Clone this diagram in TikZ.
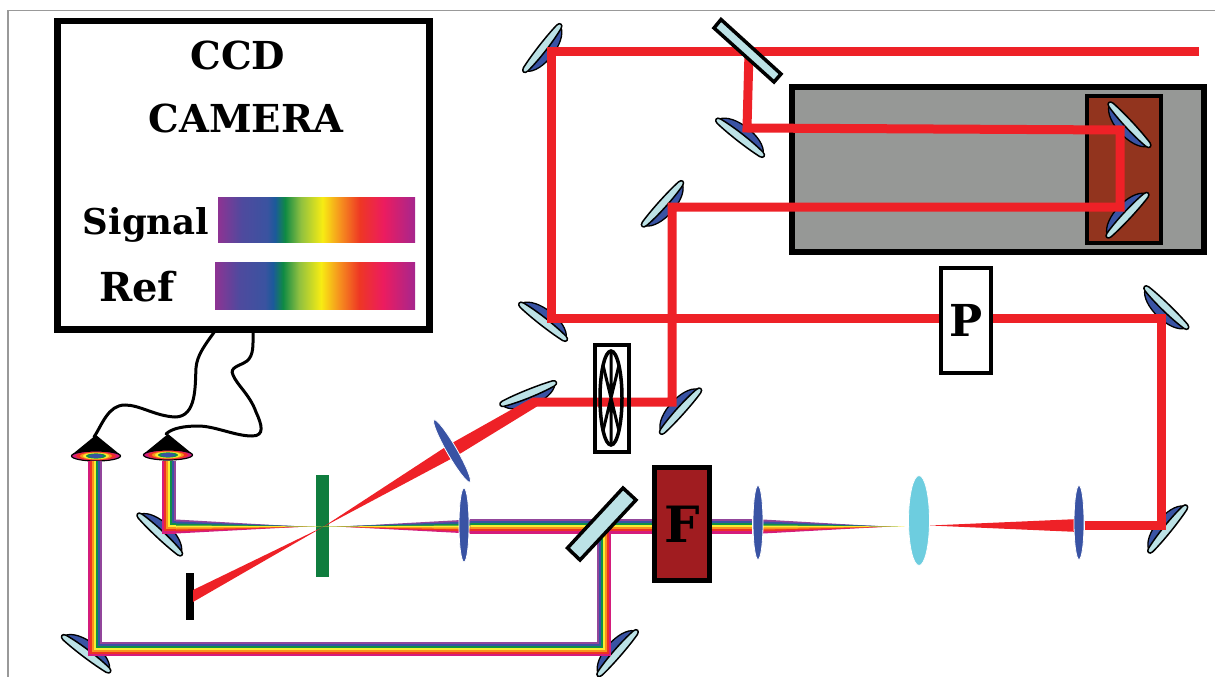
\documentclass[tikz,border=0pt]{standalone}
\usepackage{tikz}
\usepackage{fontspec}
\setmainfont{DejaVu Serif}
\definecolor{rMag}{HTML}{D41C7C}
\definecolor{rRed}{HTML}{EE3124}
\definecolor{rOra}{HTML}{F7941D}
\definecolor{rYel}{HTML}{F9ED32}
\definecolor{rGre}{HTML}{0F9048}
\definecolor{rBlu}{HTML}{3953A4}
\definecolor{rPur}{HTML}{92459B}
\definecolor{beamred}{HTML}{EE2127}
\definecolor{mirlight}{HTML}{BCE2E6}
\definecolor{mirdark}{HTML}{3953A4}
\definecolor{lenscyan}{HTML}{6DCDDF}
\definecolor{slab}{HTML}{969896}
\definecolor{stage}{HTML}{92341E}
\definecolor{filt}{HTML}{A01C20}
\definecolor{grat}{HTML}{0F7D3E}
\definecolor{frameg}{HTML}{999999}
\definecolor{sA}{HTML}{8E3393}\definecolor{sB}{HTML}{4F4A9E}\definecolor{sC}{HTML}{3A53A0}
\definecolor{sD}{HTML}{1B5A9A}\definecolor{sE}{HTML}{0F8A44}\definecolor{sF}{HTML}{8FC040}
\definecolor{sG}{HTML}{F7EC13}\definecolor{sH}{HTML}{F6921E}\definecolor{sI}{HTML}{EE3724}
\definecolor{sJ}{HTML}{EC1C5F}\definecolor{sK}{HTML}{A6268E}
\pgfdeclarehorizontalshading{spectrum}{100bp}{color(0bp)=(sA); color(25bp)=(sA); color(31bp)=(sB); color(37.5bp)=(sC); color(39.5bp)=(sD); color(42bp)=(sE); color(46bp)=(sF); color(51.5bp)=(sG); color(56bp)=(sH); color(61bp)=(sI); color(67bp)=(sJ); color(75bp)=(sK); color(100bp)=(sK)}
\tikzset{
  redbeam/.style={draw=beamred,line width=9pt,line join=miter},
  boxnode/.style={draw=black,inner sep=0pt,outer sep=0pt,font=\bfseries},
  lens/.style={draw=white,line width=0.8pt,fill=mirdark},
  wire/.style={draw=black,line width=3pt,line cap=round},
  splitter/.style={draw=black,line width=3.5pt,fill=mirlight,line join=miter},
  spec/.style={shading=spectrum,draw=none},
}
% centre x, centre y, page angle; the dark face is on local +y
\newcommand{\mirrorat}[3]{%
  \begin{scope}[shift={(#1,#2)},rotate=#3]
    \filldraw[fill=mirdark,draw=black,line width=1.3pt] (-28,-3) .. controls (-20,11) and (20,11) .. (28,-3) -- cycle;
    \filldraw[fill=mirlight,draw=black,line width=1.5pt,line join=round] (-27,-2) .. controls (-12,0) and (12,0) .. (27,-2) .. controls (31.5,-2.5) and (31.5,-7) .. (27,-7.5) .. controls (12,-9) and (-12,-9) .. (-27,-7.5) .. controls (-31.5,-7) and (-31.5,-2.5) .. (-27,-2) -- cycle;
  \end{scope}}
% rainbow fan: broad end at x=#1, apex at x=#3, axis y=#2; inner colours reach the apex
\newcommand{\rainbowfan}[3]{%
  \foreach \a/\b/\t/\c in {-7/0/.85/rPur,0/7/.9/rMag,-5/0/.9/rBlu,0/5/.93/rRed,-3/0/.95/rGre,0/3/.97/rOra,-1/1/1/rYel}{%
    \fill[\c] (#1,#2+\a) -- (#1,#2+\b) -- ({#1+\t*(#3-#1)},#2) -- cycle;}}
\newcommand{\detector}[2]{%
  \begin{scope}[shift={(#1,#2)}]
    \fill[black] (-24.5,-1) -- (0,-21) -- (24.5,-1) -- cycle;
    \filldraw[fill=rMag,draw=black,line width=1.2pt] (0,0) ellipse [x radius=24.5,y radius=5];
    \fill[rRed] (0,0) ellipse [x radius=20,y radius=4.2];
    \fill[rOra] (0,0) ellipse [x radius=16,y radius=3.6];
    \fill[rYel] (0,0) ellipse [x radius=13,y radius=3.2];
    \fill[rGre] (0,0) ellipse [x radius=10,y radius=2.6];
    \fill[rBlu] (0,0) ellipse [x radius=7,y radius=1.9];
  \end{scope}}
\begin{document}
\begin{tikzpicture}[x=1pt,y=-1pt]
\useasboundingbox (0,0) rectangle (1215,677);
% frame hairlines
\draw[frameg,line width=1.2pt] (8,677) -- (8,10.5) -- (1215,10.5);
% camera
\node[boxnode,line width=6.5pt,minimum width=372pt,minimum height=308.5pt,anchor=north west] (camera) at (57.5,21) {};
\node[font=\fontsize{38.5}{40}\selectfont\bfseries] (ccd) at (238,55) {CCD};
\node[font=\fontsize{38.5}{40}\selectfont\bfseries] (cam) at (246,118) {CAMERA};
\node[font=\fontsize{35.5}{40}\selectfont\bfseries,inner sep=0pt,anchor=base] (sig) at (146,234) {Signal};
\node[font=\fontsize{40}{44}\selectfont\bfseries,inner sep=0pt,anchor=base] (ref) at (137,301) {Ref};
\path[spec] (218,197) rectangle (415,242);
\path[spec] (215,262) rectangle (415,309);
% wires
\coordinate (wa) at (215,331);
\coordinate (wb) at (253,331);
\coordinate (da) at (94,437);
\coordinate (db) at (166,434);
\draw[wire] (wa) .. controls (205,345) and (197,355) .. (196,368) .. controls (195,385) and (197,417) .. (175,417) .. controls (155,416) and (140,405) .. (125,405) .. controls (108,405) and (102,425) .. (da);
\draw[wire] (wb) .. controls (253,345) and (254,355) .. (247,361) .. controls (240,366) and (229,367) .. (233,375) .. controls (237,385) and (250,395) .. (256,412) .. controls (262,425) and (265,436) .. (252,436) .. controls (235,436) and (215,426) .. (198,426) .. controls (185,426) and (172,428) .. (db);
% detectors
\detector{96}{456}
\detector{168}{455}
% grating and block
\fill[grat] (316,475) rectangle (329,577);
\fill[black] (186,573) rectangle (193.5,620);
% delay stage
\node[boxnode,line width=6pt,fill=slab,minimum width=412pt,minimum height=165pt,anchor=north west] (slabbox) at (792,87) {};
\node[boxnode,line width=4.5pt,fill=stage,minimum width=74pt,minimum height=147pt,anchor=north west] (stagebox) at (1087,96) {};
% mirrors
\mirrorat{546}{51}{52}
\mirrorat{743}{134}{142}
\mirrorat{666}{207}{48}
\mirrorat{1126}{128}{-47}
\mirrorat{1124}{212}{227}
\mirrorat{546}{318}{142}
\mirrorat{1163}{311}{-44}
\mirrorat{1164}{526}{231}
\mirrorat{677}{408}{228}
\mirrorat{530}{398}{22}
\mirrorat{163}{531}{137}
\mirrorat{89}{650}{143}
\mirrorat{614}{650}{229}
% red beams
\coordinate (in) at (1199,52);
\coordinate (c1) at (551,52);
\coordinate (c2) at (551,318);
\coordinate (c3) at (1161,318);
\coordinate (c4) at (1161,525);
\coordinate (c5) at (1085,525);
\coordinate (s1) at (749,52);
\coordinate (r1) at (747,128);
\coordinate (r2) at (1120,130);
\coordinate (r3) at (1120,207);
\coordinate (r4) at (672,207);
\coordinate (r5) at (672,402);
\coordinate (r6) at (533,402);
\draw[redbeam] (in) -- (c1) -- (c2) -- (c3) -- (c4) -- (c5);
\draw[redbeam] (s1) -- (r1) -- (r2) -- (r3) -- (r4) -- (r5) -- (r6);
\fill[beamred] (533,397.5) -- (537,406.5) -- (455.5,456.5) -- (448.5,445) -- cycle;
\fill[beamred] (1079,519) -- (1079,532) -- (930,525.5) -- cycle;
\fill[beamred] (448.5,445) -- (455.5,456.5) -- (323,527) -- cycle;
\fill[beamred] (323,527) -- (193,590) -- (193,602) -- cycle;
% rainbow beam
\foreach \d/\c in {-6/rPur,-4/rBlu,-2/rGre,0/rYel,2/rOra,4/rRed,6/rMag}{
  \draw[\c,line width=2.1pt,line join=miter] (95-\d,461) -- (95-\d,649+\d) -- (604+\d,649+\d) -- (604+\d,526.5+\d) -- (655,526.5+\d);
  \draw[\c,line width=2.1pt] (604,526.5+\d) -- (470,526.5+\d);
  \draw[\c,line width=2.1pt] (710,526.5+\d) -- (752,526.5+\d);
  \draw[\c,line width=2.1pt,line join=miter] (169-\d,461) -- (169-\d,526.5+\d) -- (176,526.5+\d);
}
\rainbowfan{763}{526.5}{905}
\rainbowfan{470}{526.5}{322}
\rainbowfan{176}{526.5}{322}
% lenses
\path[lens] (464,525) ellipse [x radius=5,y radius=37];
\path[lens] (758,522.5) ellipse [x radius=5,y radius=37];
\path[lens] (1079,522.5) ellipse [x radius=5,y radius=37];
\path[lens,rotate around={-60:(452,451)}] (452,451) ellipse [x radius=36,y radius=5];
\path[lens,fill=lenscyan] (919,520.5) ellipse [x radius=10.5,y radius=45];
% beam splitters
\path[splitter] (721,19.5) -- (714,28) -- (774,82) -- (781,74) -- cycle;
\path[splitter] (623,488) -- (636,500) -- (580,560) -- (567.5,548) -- cycle;
% chopper
\node[boxnode,line width=4pt,minimum width=34pt,minimum height=107pt,anchor=north west] (chop) at (594.5,344.5) {};
\draw[black,line width=3.5pt] (611,398) ellipse [x radius=11,y radius=47];
\draw[black,line width=3pt] (611,351) -- (611,445) (603,365) -- (619,431) (619,365) -- (603,431);
% P and F boxes
\node[boxnode,line width=3.5pt,fill=white,minimum width=50pt,minimum height=105pt,font=\fontsize{44}{50}\selectfont\bfseries] (pbox) at (966,320.5) {P};
\node[boxnode,line width=5pt,fill=filt,minimum width=55pt,minimum height=113pt,font=\fontsize{50}{56}\selectfont\bfseries] (fbox) at (682,524) {F};
\end{tikzpicture}
\end{document}
